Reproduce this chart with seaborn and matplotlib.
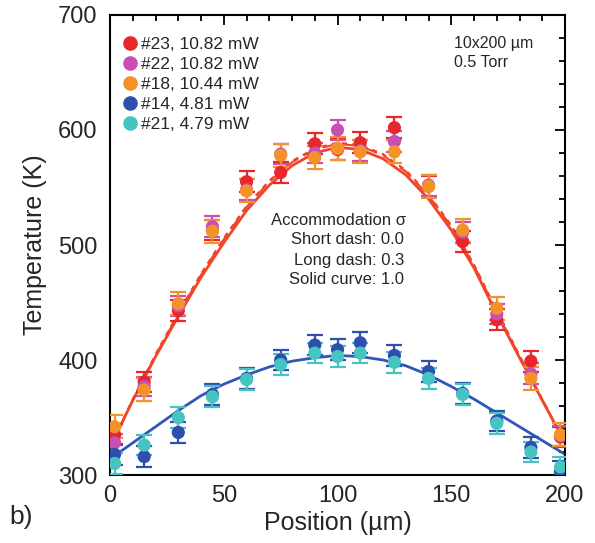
import numpy as np
import pandas as pd
import matplotlib
matplotlib.use("Agg")
import matplotlib.pyplot as plt
from matplotlib.ticker import MultipleLocator
import seaborn as sns

sns.set_theme(style="white")
plt.rcParams['font.family'] = ['Liberation Sans', 'DejaVu Sans']

# ---- data ----
positions = [2, 15, 30, 45, 60, 75, 90, 100, 110, 125, 140, 155, 170, 185, 198]
series_labels = ["#23, 10.82 mW", "#22, 10.82 mW", "#18, 10.44 mW", "#14, 4.81 mW", "#21, 4.79 mW"]
t_23 = [335, 381, 443, 513, 555, 563, 588, 583, 589, 602, 551, 503, 435, 399, 333]
t_22 = [328, 377, 447, 516, 548, 579, 580, 600, 582, 590, 552, 511, 440, 388, 334]
t_18 = [342, 374, 449, 512, 547, 578, 576, 584, 581, 581, 551, 513, 445, 384, 335]
t_14 = [318, 316, 337, 370, 384, 400, 413, 409, 415, 404, 390, 371, 347, 324, 303]
t_21 = [310, 326, 350, 368, 383, 396, 406, 403, 406, 398, 384, 370, 345, 320, 307]
err_23 = [9, 9, 9, 9, 9, 9, 9, 9, 9, 9, 9, 9, 9, 9, 9]
err_22 = [8, 8, 9, 9, 9, 9, 9, 9, 9, 9, 9, 9, 9, 9, 9]
err_18 = [10, 10, 10, 10, 10, 10, 10, 10, 10, 10, 10, 10, 10, 10, 10]
err_14 = [9, 9, 9, 9, 9, 9, 9, 9, 9, 9, 9, 9, 9, 9, 9]
err_21 = [9, 9, 9, 9, 9, 9, 9, 9, 9, 9, 9, 9, 9, 9, 9]

curve_x = [0, 10, 20, 30, 40, 50, 60, 70, 80, 90, 100, 110, 120, 130, 140, 150, 160, 170, 180, 190, 200]
hot_solid = [324, 365, 403, 438, 472, 502, 530, 552, 569, 580, 585, 583, 575, 561, 540, 513, 480, 440, 402, 365, 328]
hot_long = [324, 365, 404, 440, 474, 505, 533, 555, 572, 583, 588, 586, 578, 564, 543, 516, 482, 442, 403, 365, 328]
hot_short = [324, 366, 405, 441, 475, 506, 534, 556, 573, 584, 589, 587, 579, 565, 544, 517, 483, 443, 404, 366, 328]
cool_solid = [314, 328, 342, 356, 369, 379, 387, 394, 399, 402, 404, 403, 400, 395, 387, 377, 366, 354, 342, 330, 318]

colors = ["#e8262b", "#c84fb4", "#f4922a", "#2f4fae", "#45c4c2"]
red_curve = "#f0452a"
blue_curve = "#2f56b8"

# ---- figure ----
fig = plt.figure(figsize=(5.95, 5.43), dpi=100)
ax = fig.add_axes([0.185, 0.1252, 0.7646, 0.8472])

cdf = pd.DataFrame({"x": curve_x, "hs": hot_solid, "hl": hot_long, "hsh": hot_short, "cs": cool_solid})
sns.lineplot(data=cdf, x="x", y="hsh", ax=ax, color=red_curve, lw=1.5, linestyle=(0, (2.5, 2.5)), zorder=2)
sns.lineplot(data=cdf, x="x", y="hl", ax=ax, color=red_curve, lw=1.5, linestyle=(0, (7, 3)), zorder=2)
sns.lineplot(data=cdf, x="x", y="hs", ax=ax, color=red_curve, lw=2.0, zorder=2)
sns.lineplot(data=cdf, x="x", y="cs", ax=ax, color=blue_curve, lw=2.0, zorder=2)

temps = [t_23, t_22, t_18, t_14, t_21]
errs = [err_23, err_22, err_18, err_14, err_21]
order = [0, 1, 2, 3, 4]
handles = {}
for k in order:
    ax.errorbar(positions, temps[k], yerr=errs[k], fmt="none", ecolor=colors[k],
                elinewidth=1.6, capsize=6, capthick=1.6, zorder=3)
    df = pd.DataFrame({"x": positions, "t": temps[k]})
    sns.scatterplot(data=df, x="x", y="t", ax=ax, color=colors[k], s=90,
                    edgecolor="none", zorder=4)
    handles[k] = plt.Line2D([], [], marker="o", ls="none", color=colors[k], markersize=9.5)

ax.set_xlim(0, 200)
ax.set_ylim(300, 700)
ax.xaxis.set_major_locator(MultipleLocator(50))
ax.xaxis.set_minor_locator(MultipleLocator(10))
ax.yaxis.set_major_locator(MultipleLocator(100))
ax.yaxis.set_minor_locator(MultipleLocator(20))
ax.tick_params(which="both", direction="in", top=True, right=True, color="black", width=1.3)
ax.tick_params(which="major", length=7, labelsize=17)
ax.tick_params(axis="y", which="major", pad=9)
ax.tick_params(axis="x", which="major", pad=7)
ax.tick_params(which="minor", length=4)
for s in ax.spines.values():
    s.set_color("black")
    s.set_linewidth(1.5)

ax.set_xlabel("Position (\u00b5m)", fontsize=18, labelpad=3)
ax.set_ylabel("Temperature (K)", fontsize=18, labelpad=8)

leg = ax.legend([handles[k] for k in range(5)], series_labels, loc="upper left",
                bbox_to_anchor=(-0.005, 0.975), frameon=False, fontsize=12.5,
                handletextpad=0.0, labelspacing=0.28, handlelength=1.3, borderaxespad=0.2)

ax.text(0.755, 0.938, "10x200 \u00b5m", transform=ax.transAxes, fontsize=11.5, va="center", ha="left")
ax.text(0.755, 0.897, "0.5 Torr", transform=ax.transAxes, fontsize=11.5, va="center", ha="left")
ax.text(0.651, 0.554, "Accommodation \u03c3", transform=ax.transAxes, fontsize=12, ha="right", va="center")
ax.text(0.646, 0.511, "Short dash: 0.0", transform=ax.transAxes, fontsize=12, ha="right", va="center")
ax.text(0.646, 0.467, "Long dash: 0.3", transform=ax.transAxes, fontsize=12, ha="right", va="center")
ax.text(0.646, 0.424, "Solid curve: 1.0", transform=ax.transAxes, fontsize=12, ha="right", va="center")

fig.text(0.015, 0.048, "b)", fontsize=19, ha="left", va="center")

fig.savefig("out.png", dpi=100)
